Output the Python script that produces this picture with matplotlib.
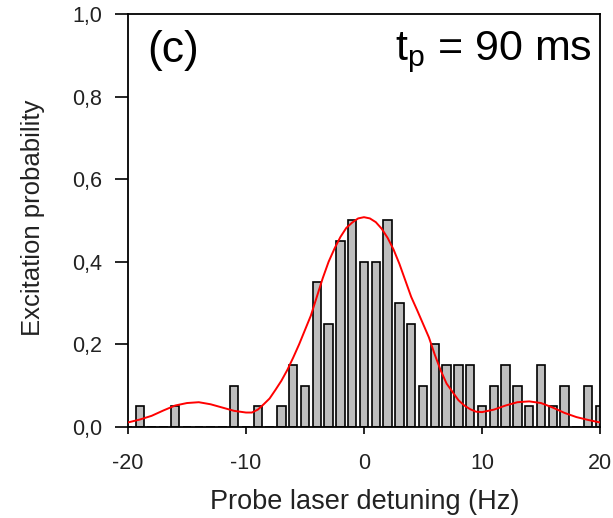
import numpy as np
import matplotlib
matplotlib.use("Agg")
import matplotlib.pyplot as plt

plt.rcParams["font.family"] = ["Liberation Sans", "DejaVu Sans"]

# measured histogram (1 Hz bins)
detuning = np.arange(-20, 21)
excitation = [0.00, 0.05, 0.00, 0.00, 0.05, 0.00, 0.00, 0.00, 0.00, 0.10,
              0.00, 0.05, 0.00, 0.05, 0.15, 0.10, 0.35, 0.25, 0.45, 0.50,
              0.40, 0.40, 0.50, 0.30, 0.25, 0.10, 0.20, 0.15, 0.15, 0.15,
              0.05, 0.10, 0.15, 0.10, 0.05, 0.15, 0.05, 0.10, 0.00, 0.10,
              0.05]

# fitted line shape
fit_x = [-20, -19, -18, -17, -16, -15, -14, -13, -12, -11, -10, -9.5, -9,
         -8.5, -8, -7.5, -7, -6.5, -6, -5.5, -5, -4.5, -4, -3.5, -3, -2.5,
         -2, -1.5, -1, -0.5, 0, 0.5, 1, 1.5, 2, 2.5, 3, 3.5, 4, 4.5, 5, 5.5,
         6, 6.5, 7, 7.5, 8, 8.5, 9, 9.5, 10, 11, 12, 13, 14, 15, 16, 17, 18,
         19, 20]
fit_y = [0.011, 0.018, 0.027, 0.040, 0.052, 0.058, 0.060, 0.055, 0.047,
         0.039, 0.035, 0.035, 0.042, 0.055, 0.069, 0.090, 0.112, 0.138,
         0.168, 0.200, 0.235, 0.270, 0.315, 0.360, 0.400, 0.432, 0.460,
         0.482, 0.495, 0.505, 0.508, 0.505, 0.496, 0.480, 0.458, 0.430,
         0.395, 0.355, 0.315, 0.283, 0.250, 0.217, 0.175, 0.137, 0.105,
         0.085, 0.065, 0.052, 0.043, 0.037, 0.036, 0.042, 0.052, 0.060,
         0.062, 0.058, 0.047, 0.034, 0.024, 0.017, 0.011]

yticks = [0.0, 0.2, 0.4, 0.6, 0.8, 1.0]
ytick_labels = ["0,0", "0,2", "0,4", "0,6", "0,8", "1,0"]
xticks = [-20, -10, 0, 10, 20]

fig = plt.figure(figsize=(6.13, 5.18), dpi=100)
ax = fig.add_axes([0.2088, 0.1757, 0.770, 0.7973])

ax.bar(detuning, excitation, width=0.7, color="#bebebe", edgecolor="black",
       linewidth=1.2, zorder=2)
ax.plot(fit_x, fit_y, color="red", linewidth=1.4, zorder=3)

ax.set_xlim(-20, 20)
ax.set_ylim(0, 1.0)
ax.set_xticks(xticks)
ax.set_xticklabels([str(v) for v in xticks])
ax.set_yticks(yticks)
ax.set_yticklabels(ytick_labels)
ax.tick_params(axis="y", direction="out", length=9.5, width=1.2, labelsize=15.5,
               pad=9, labelcolor="#222222")
ax.tick_params(axis="x", direction="out", length=5, width=1.2, labelsize=15.5,
               pad=14, labelcolor="#222222")
for s in ax.spines.values():
    s.set_linewidth(1.3)

ax.set_xlabel("Probe laser detuning (Hz)", fontsize=19.5, color="#222222")
ax.set_ylabel("Excitation probability", fontsize=18.5, color="#222222")
ax.xaxis.set_label_coords(0.502, -0.150)
ax.yaxis.set_label_coords(-0.176, 0.506)

ax.text(0.04, 0.962, "(c)", transform=ax.transAxes, fontsize=32,
        ha="left", va="top")
ax.text(0.982, 0.962, r"t$_\mathregular{p}$ = 90 ms", transform=ax.transAxes,
        fontsize=31, ha="right", va="top")

fig.savefig("out.png", dpi=100)
